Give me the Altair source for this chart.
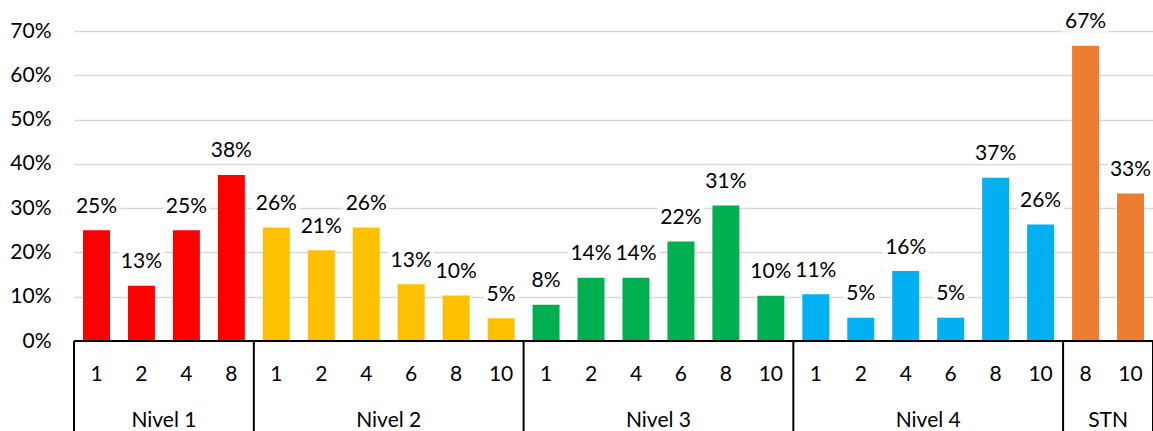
import altair as alt
import pandas as pd

# Category hierarchy: level groups and their sub-categories
groups = ["Nivel 1", "Nivel 2", "Nivel 3", "Nivel 4", "STN"]
group_colors = ["#FF0000", "#FFC000", "#00B050", "#00B0F0", "#ED7D31"]
sub_labels = [
    ["1", "2", "4", "8"],
    ["1", "2", "4", "6", "8", "10"],
    ["1", "2", "4", "6", "8", "10"],
    ["1", "2", "4", "6", "8", "10"],
    ["8", "10"],
]
shares = [
    [0.25, 0.125, 0.25, 0.375],
    [0.2564, 0.2051, 0.2564, 0.1282, 0.1026, 0.0513],
    [0.0816, 0.1429, 0.1429, 0.2245, 0.3061, 0.1020],
    [0.1053, 0.0526, 0.1579, 0.0526, 0.3684, 0.2632],
    [0.6667, 0.3333],
]
y_ticks = [0.0, 0.1, 0.2, 0.3, 0.4, 0.5, 0.6, 0.7]

FONT = "Lato"
FS = 21
W, H = 1079, 310

# One row per bar, positioned on a slot index
rows = []
bounds = [0]
pos = 0
for g, subs, vals in zip(groups, sub_labels, shares):
    for s, v in zip(subs, vals):
        pct = int(v * 100 + 0.5)
        nchar = len(str(pct))
        half = (nchar * 12 + 18 + 4) / 2 / (W / 24)
        rows.append({
            "group": g, "sub": s, "value": v,
            "x0": pos + 0.2, "x1": pos + 0.8, "mid": pos + 0.5,
            "bx0": pos + 0.5 - half, "bx1": pos + 0.5 + half,
        })
        pos += 1
    bounds.append(pos)
n_slots = pos

bars_df = pd.DataFrame(rows)
group_df = pd.DataFrame({
    "group": groups,
    "center": [(a + b) / 2 for a, b in zip(bounds[:-1], bounds[1:])],
})
bound_df = pd.DataFrame({"b": bounds})

xs = alt.Scale(domain=[0, n_slots], nice=False, zero=False)
ys = alt.Scale(domain=[0, 0.7], nice=False)

base = alt.Chart(bars_df)

bars = base.mark_rect().encode(
    x=alt.X("x0:Q", scale=xs, axis=None),
    x2="x1:Q",
    y=alt.Y("value:Q", scale=ys, axis=alt.Axis(
        values=y_ticks, format=".0%", domain=False, ticks=False,
        grid=True, gridColor="#d9d9d9", gridWidth=1.5,
        labelFont=FONT, labelFontSize=FS, labelColor="black",
        labelPadding=23, title=None,
    )),
    y2=alt.datum(0),
    color=alt.Color("group:N", scale=alt.Scale(domain=groups, range=group_colors), legend=None),
)

label_bg = base.mark_rect(color="white", yOffset=-14, y2Offset=-36).encode(
    x=alt.X("bx0:Q", scale=xs, axis=None),
    x2="bx1:Q",
    y=alt.Y("value:Q", scale=ys),
    y2="value:Q",
)

value_text = base.mark_text(
    font=FONT, fontSize=FS, color="black", baseline="alphabetic", dy=-17.5
).encode(
    x=alt.X("mid:Q", scale=xs, axis=None),
    y=alt.Y("value:Q", scale=ys),
    text=alt.Text("value:Q", format=".0%"),
)

sub_text = base.mark_text(
    font=FONT, fontSize=FS, color="black", baseline="alphabetic"
).encode(
    x=alt.X("mid:Q", scale=xs, axis=None),
    y=alt.value(349.5),
    text="sub:N",
)

group_text = alt.Chart(group_df).mark_text(
    font=FONT, fontSize=FS, color="black", baseline="alphabetic"
).encode(
    x=alt.X("center:Q", scale=xs, axis=None),
    y=alt.value(396),
    text="group:N",
)

separators = alt.Chart(bound_df).mark_rule(color="black", strokeWidth=2).encode(
    x=alt.X("b:Q", scale=xs, axis=None),
    y=alt.value(H),
    y2=alt.value(H + 95),
)

baseline = alt.Chart(bound_df).mark_rule(color="black", strokeWidth=2).encode(
    x=alt.value(0),
    x2=alt.value(W + 2),
    y=alt.value(H),
)

chart = (
    alt.layer(bars, label_bg, value_text, sub_text, group_text, separators, baseline)
    .properties(
        width=W,
        height=H,
        autosize=alt.AutoSizeParams(type="none"),
        padding={"left": 74, "top": 31, "right": 0, "bottom": 90},
        background="white",
    )
    .configure_view(stroke=None)
)

chart.save("out.html", embed_options={"renderer": "svg", "actions": False})
